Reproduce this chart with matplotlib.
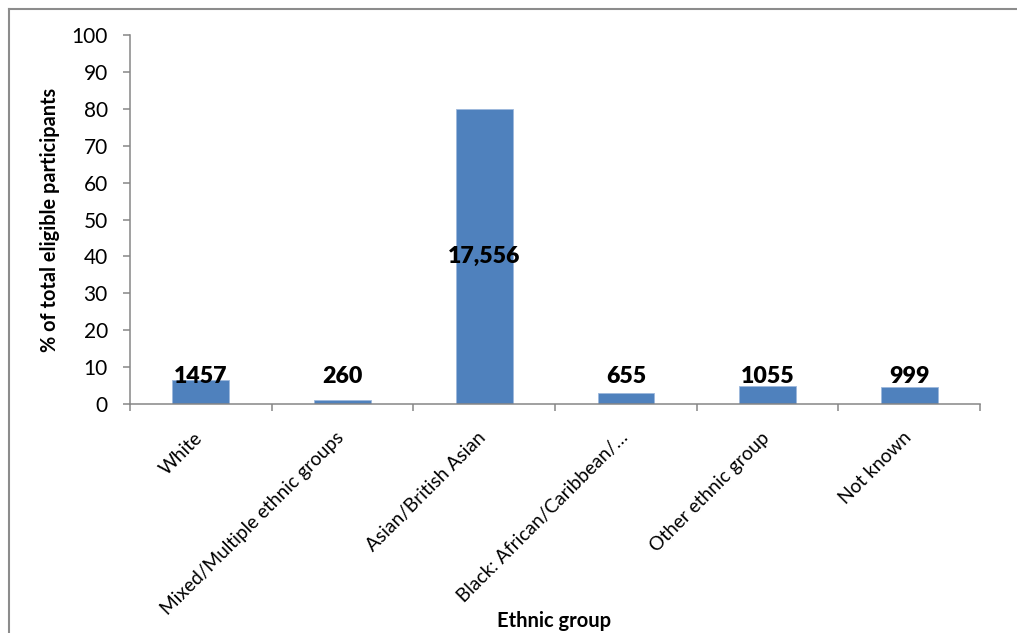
import matplotlib
matplotlib.use("Agg")
import matplotlib.pyplot as plt
from matplotlib.lines import Line2D

plt.rcParams['font.family'] = ['Lato', 'DejaVu Sans']

categories = ["White", "Mixed/Multiple ethnic groups", "Asian/British Asian",
              "Black: African/Caribbean/\u2026", "Other ethnic group", "Not known"]
percent = [6.6, 1.2, 79.9, 3.0, 4.8, 4.5]
counts = ["1457", "260", "17,556", "655", "1055", "999"]
yticks = [0, 10, 20, 30, 40, 50, 60, 70, 80, 90, 100]

W, H = 1017, 633
fig = plt.figure(figsize=(W / 100, H / 100), dpi=100)
ax = fig.add_axes([130 / W, 1 - 404 / H, 850 / W, 369 / H])

x = list(range(len(categories)))
ax.bar(x, percent, width=0.4, color="#4F81BD", edgecolor="#9DB8DC", linewidth=0.6, zorder=2)

# count labels: the dominant bar gets its label in the middle, others just above the axis
for xi, p, c in zip(x, percent, counts):
    y = p / 2 if p > 20 else 7.5
    ax.text(xi, y, c, ha="center", va="center", fontsize=16.7, fontweight="heavy",
            color="black", zorder=3)

ax.set_xlim(-0.5, len(categories) - 0.5)
ax.set_ylim(0, 100)
ax.set_yticks(yticks)
ax.tick_params(axis="y", direction="out", length=5, width=1.1, color="#868686",
               labelsize=15, pad=11)

# category ticks sit on the boundaries between bars
ax.set_xticks([i - 0.5 for i in range(len(categories) + 1)])
ax.set_xticklabels([])
ax.tick_params(axis="x", direction="out", length=5, width=1.1, color="#868686")
for xi, name in zip(x, categories):
    ax.annotate(name, xy=(xi, 0), xycoords=("data", "axes fraction"),
                xytext=(-5, -18), textcoords="offset points",
                rotation=45, ha="right", va="top", rotation_mode="anchor",
                fontsize=13.8, color="black")

for side in ("top", "right"):
    ax.spines[side].set_visible(False)
for side in ("left", "bottom"):
    ax.spines[side].set_color("#868686")
    ax.spines[side].set_linewidth(1.1)

ax.set_ylabel("% of total eligible participants", fontsize=14.3, fontweight="bold")
ax.yaxis.set_label_coords(-0.082, 0.5)
fig.text(554 / W, 1 - 621 / H, "Ethnic group", ha="center", va="center",
         fontsize=14.5, fontweight="bold")

# chart-area frame
fig.add_artist(Line2D([9 / W, 1], [1 - 9 / H, 1 - 9 / H], color="#8C8C8C", linewidth=1.5,
                      transform=fig.transFigure))
fig.add_artist(Line2D([9 / W, 9 / W], [0, 1 - 9 / H], color="#8C8C8C", linewidth=1.5,
                      transform=fig.transFigure))

fig.savefig("out.png", dpi=100)
